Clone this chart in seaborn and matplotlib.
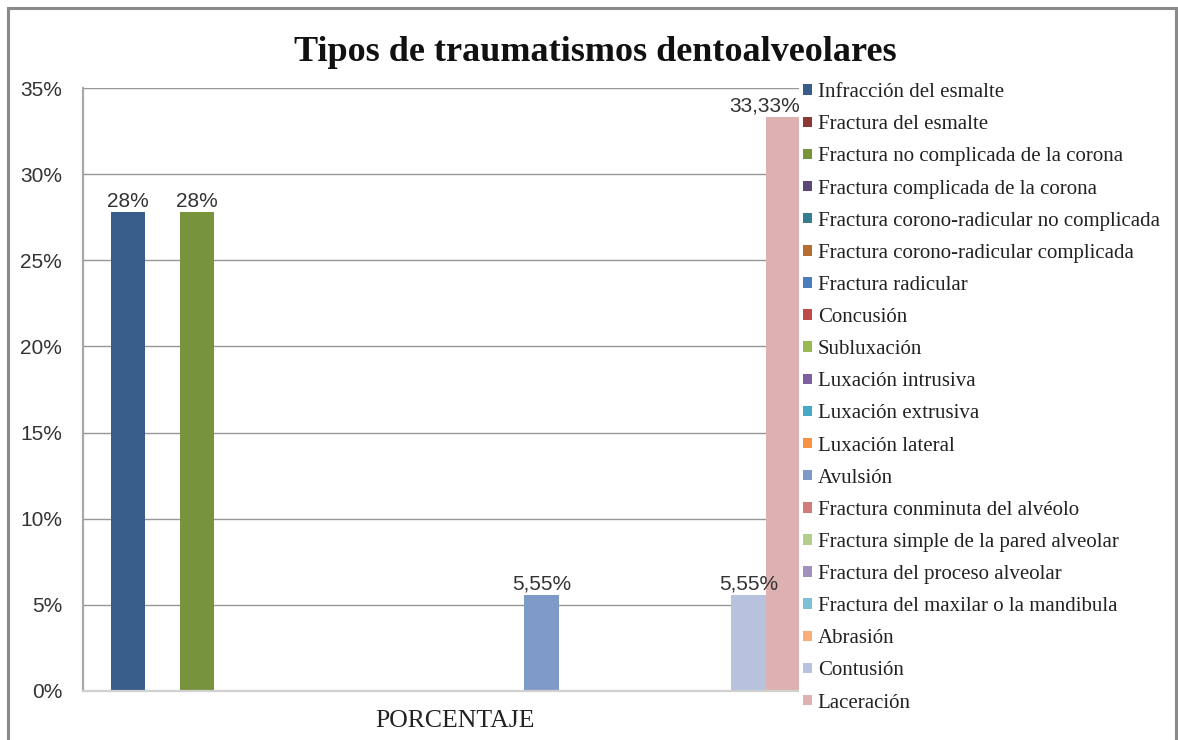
import seaborn as sns
import numpy as np
import pandas as pd
import matplotlib.pyplot as plt
from matplotlib.patches import Rectangle

# datos
tipos = ['Infracción del esmalte', 'Fractura del esmalte',
         'Fractura no complicada de la corona', 'Fractura complicada de la corona',
         'Fractura corono-radicular no complicada', 'Fractura corono-radicular complicada',
         'Fractura radicular', 'Concusión', 'Subluxación', 'Luxación intrusiva',
         'Luxación extrusiva', 'Luxación lateral', 'Avulsión',
         'Fractura conminuta del alvéolo', 'Fractura simple de la pared alveolar',
         'Fractura del proceso alveolar', 'Fractura del maxilar o la mandibula',
         'Abrasión', 'Contusión', 'Laceración']
porcentajes = [27.78, 0, 27.78, 0, 0, 0, 0, 0, 0, 0,
               0, 0, 5.55, 0, 0, 0, 0, 0, 5.55, 33.33]
etiquetas = ['28%', '', '28%', '', '', '', '', '', '', '',
             '', '', '5,55%', '', '', '', '', '', '5,55%', '33,33%']
colores = ['#385D8A', '#8C3836', '#77933C', '#5C4776', '#357D91', '#B66D31',
           '#4A7EBB', '#BE4B48', '#98B954', '#7D60A0', '#46AAC5', '#F69240',
           '#7E9BC8', '#D07C7A', '#B3CD8C', '#A290BC', '#7DC0D5', '#F9AE7A',
           '#B7C3DE', '#DDB1B0']
serie = 'PORCENTAJE'
yticks = [0, 5, 10, 15, 20, 25, 30, 35]

df = pd.DataFrame({'serie': serie, 'tipo': tipos, 'valor': porcentajes})

sns.set_style('white')
plt.rcParams['font.family'] = ['Liberation Sans', 'DejaVu Sans']

fig = plt.figure(figsize=(11.78, 7.40), dpi=100)
ax = fig.add_axes([83 / 1178, 49 / 740, 745 / 1178, 603 / 740])

sns.barplot(data=df, x='serie', y='valor', hue='tipo', hue_order=tipos,
            palette=colores, saturation=1, width=0.925, linewidth=0, ax=ax)

ax.set_ylim(0, 35)
ax.set_xlim(-0.5, 0.5)
ax.set_yticks(yticks)
ax.set_yticklabels([f'{t}%' for t in yticks], fontsize=15, color='#333333')
ax.tick_params(axis='y', length=7, width=1, color='#b0b0b0', pad=8)
ax.tick_params(axis='x', length=0, pad=14)
for lab in ax.get_xticklabels():
    lab.set_fontfamily('Liberation Serif')
    lab.set_fontsize(18.5)
    lab.set_color('#222222')
ax.set_xlabel('')
ax.set_ylabel('')
ax.yaxis.grid(True, color='#969696', linewidth=1)
ax.set_axisbelow(True)
for s in ['top', 'right']:
    ax.spines[s].set_visible(False)
ax.spines['left'].set_color('#a8a8a8')
ax.spines['left'].set_linewidth(1.6)
ax.spines['bottom'].set_color('#d0d0d0')
ax.spines['bottom'].set_linewidth(1.6)

# etiquetas de datos
for i, cont in enumerate(ax.containers):
    if not etiquetas[i]:
        continue
    bar = cont[0]
    if i == len(ax.containers) - 1:
        xpos, ha = bar.get_x() + bar.get_width(), 'right'
    else:
        xpos, ha = bar.get_x() + bar.get_width() / 2, 'center'
    ax.annotate(etiquetas[i], (xpos, bar.get_height()), xytext=(0, 1),
                textcoords='offset points', ha=ha, va='bottom',
                fontsize=15, color='#333333')

handles, labels = ax.get_legend_handles_labels()
leg = ax.legend(handles, labels, loc='upper left',
                bbox_to_anchor=(799 / 1178, 1 - 79 / 740),
                bbox_transform=fig.transFigure, borderaxespad=0,
                frameon=True, facecolor='white', edgecolor='none', framealpha=1,
                fancybox=False, borderpad=0.2, handlelength=0.4, handleheight=0.4,
                handletextpad=0.3, labelspacing=0.63,
                prop={'family': 'Liberation Serif', 'size': 15})
leg.set_zorder(10)
for t in leg.get_texts():
    t.set_color('#222222')

fig.text(0.505, 1 - 61 / 740, 'Tipos de traumatismos dentoalveolares',
         ha='center', va='baseline', fontsize=26, fontweight='bold',
         family='Liberation Serif', color='#111111')

# marco exterior
fig.patches.append(Rectangle((8 / 1178, -0.05), 1168 / 1178, 1.05 - 8 / 740,
                             transform=fig.transFigure, fill=False,
                             edgecolor='#8a8a8a', linewidth=2.2))

fig.savefig('out.png', dpi=100, facecolor='white')
